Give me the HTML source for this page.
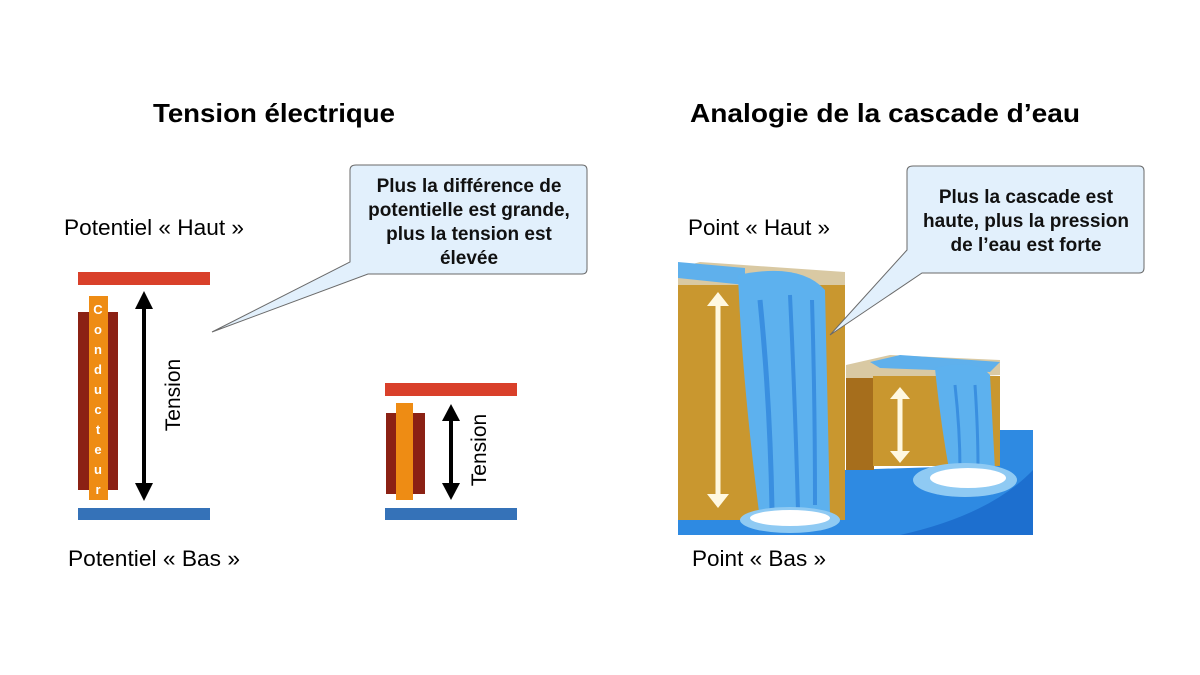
<!DOCTYPE html>
<html><head><meta charset="utf-8"><style>
html,body{margin:0;padding:0;background:#fff;}
svg{display:block;}
text{font-family:"Liberation Sans",Arial,sans-serif;}
</style></head><body>
<svg width="1200" height="675" viewBox="0 0 1200 675" xmlns="http://www.w3.org/2000/svg">
<rect width="1200" height="675" fill="#fff"/>
<!-- Titles -->
<text x="153" y="122" font-size="26" font-weight="bold" textLength="242" lengthAdjust="spacingAndGlyphs">Tension électrique</text>
<text x="690" y="122" font-size="26" font-weight="bold" textLength="390" lengthAdjust="spacingAndGlyphs">Analogie de la cascade d’eau</text>

<!-- Left labels -->
<text x="64" y="235" font-size="22" textLength="180" lengthAdjust="spacingAndGlyphs">Potentiel « Haut »</text>
<text x="68" y="566" font-size="22" textLength="172" lengthAdjust="spacingAndGlyphs">Potentiel « Bas »</text>

<!-- Left big diagram -->
<rect x="78" y="272" width="132" height="13" fill="#d9402a"/>
<rect x="78" y="508" width="132" height="12" fill="#3572b8"/>
<rect x="78" y="312" width="40" height="178" fill="#8b2114"/>
<rect x="89" y="296" width="19" height="204" fill="#ee8c14"/>
<g fill="#fff" font-size="13" font-weight="bold" text-anchor="middle">
<text x="98" y="314">C</text><text x="98" y="334">o</text><text x="98" y="354">n</text><text x="98" y="374">d</text><text x="98" y="394">u</text><text x="98" y="414">c</text><text x="98" y="434">t</text><text x="98" y="454">e</text><text x="98" y="474">u</text><text x="98" y="494">r</text>
</g>
<line x1="144" y1="300" x2="144" y2="492" stroke="#000" stroke-width="4"/>
<polygon points="144,291 135,309 153,309" fill="#000"/>
<polygon points="144,501 135,483 153,483" fill="#000"/>
<text x="0" y="0" font-size="21" text-anchor="middle" transform="translate(180,395) rotate(-90)">Tension</text>

<!-- Small diagram -->
<rect x="385" y="383" width="132" height="13" fill="#d9402a"/>
<rect x="385" y="508" width="132" height="12" fill="#3572b8"/>
<rect x="386" y="413" width="39" height="81" fill="#8b2114"/>
<rect x="396" y="403" width="17" height="97" fill="#ee8c14"/>
<line x1="451" y1="412" x2="451" y2="492" stroke="#000" stroke-width="4"/>
<polygon points="451,404 442,421 460,421" fill="#000"/>
<polygon points="451,500 442,483 460,483" fill="#000"/>
<text x="0" y="0" font-size="21" text-anchor="middle" transform="translate(486,450) rotate(-90)">Tension</text>

<!-- Callout 1 -->
<path d="M356,165 H582 Q587,165 587,170 V269 Q587,274 582,274 H368 L212,332 L350,262 V170 Q350,165 356,165 Z" fill="#e2f0fc" stroke="#6a6a6a" stroke-width="1"/>
<g font-size="19" font-weight="bold" text-anchor="middle" fill="#111">
<text x="469" y="192">Plus la différence de</text>
<text x="469" y="216">potentielle est grande,</text>
<text x="469" y="240">plus la tension est</text>
<text x="469" y="264">élevée</text>
</g>

<!-- Right labels -->
<text x="688" y="235" font-size="22" textLength="142" lengthAdjust="spacingAndGlyphs">Point « Haut »</text>
<text x="692" y="566" font-size="22" textLength="134" lengthAdjust="spacingAndGlyphs">Point « Bas »</text>

<!-- Waterfall illustration -->
<g>
<path d="M678,505 L845,495 L845,470 L1000,465 L1000,430 L1033,430 L1033,535 L678,535 Z" fill="#2e8ae2"/>
<path d="M900,535 Q990,515 1033,470 L1033,535 Z" fill="#1d6fcf"/>
<polygon points="678,268 700,262 845,272 845,290 678,290" fill="#d9c9a3"/>
<polygon points="678,262 745,268 745,285 678,278" fill="#5fb0ec"/>
<rect x="678" y="285" width="167" height="235" fill="#c9972f"/>
<path d="M738,275 Q800,262 825,290 L830,515 L760,520 Q742,380 738,275 Z" fill="#5db1ee"/>
<path d="M760,300 Q770,400 772,510" stroke="#3a8fe0" stroke-width="5" fill="none"/>
<path d="M790,295 Q795,400 798,510" stroke="#3a8fe0" stroke-width="4" fill="none"/>
<path d="M812,300 Q815,400 815,505" stroke="#3a8fe0" stroke-width="4" fill="none"/>
<ellipse cx="790" cy="520" rx="50" ry="13" fill="#8fcaf3"/>
<ellipse cx="790" cy="518" rx="40" ry="8" fill="#fff"/>
<line x1="718" y1="302" x2="718" y2="498" stroke="#fff8e0" stroke-width="5"/>
<polygon points="718,292 707,306 729,306" fill="#fff8e0"/>
<polygon points="718,508 707,494 729,494" fill="#fff8e0"/>
<polygon points="846,365 890,355 1000,360 1000,375 873,380 846,378" fill="#d9c9a3"/>
<polygon points="870,362 900,355 1000,362 990,372 880,368" fill="#5fb0ec"/>
<rect x="846" y="378" width="28" height="92" fill="#a66e1c"/>
<rect x="873" y="376" width="127" height="90" fill="#c9972f"/>
<path d="M935,368 Q975,358 990,375 L995,470 L950,475 Q940,420 935,368 Z" fill="#5db1ee"/>
<path d="M955,385 Q960,430 960,470" stroke="#3a8fe0" stroke-width="3" fill="none"/>
<path d="M975,385 Q978,430 978,468" stroke="#3a8fe0" stroke-width="3" fill="none"/>
<ellipse cx="965" cy="480" rx="52" ry="17" fill="#8fcaf3"/>
<ellipse cx="968" cy="478" rx="38" ry="10" fill="#fff"/>
<line x1="900" y1="395" x2="900" y2="455" stroke="#fff8e0" stroke-width="5"/>
<polygon points="900,387 890,399 910,399" fill="#fff8e0"/>
<polygon points="900,463 890,451 910,451" fill="#fff8e0"/>
</g>

<!-- Callout 2 -->
<path d="M913,166 H1139 Q1144,166 1144,171 V268 Q1144,273 1139,273 H922 L830,335 L907,250 V171 Q907,166 913,166 Z" fill="#e2f0fc" stroke="#6a6a6a" stroke-width="1"/>
<g font-size="19" font-weight="bold" text-anchor="middle" fill="#111">
<text x="1026" y="203">Plus la cascade est</text>
<text x="1026" y="227">haute, plus la pression</text>
<text x="1026" y="251">de l’eau est forte</text>
</g>
</svg>
</body></html>
